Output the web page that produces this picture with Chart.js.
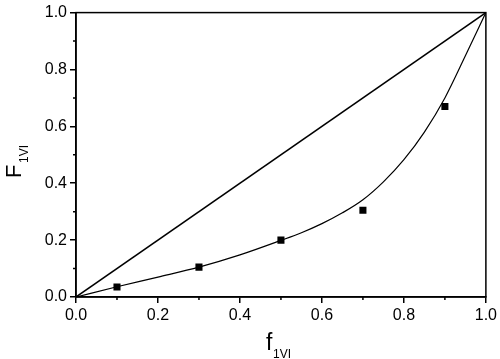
<!DOCTYPE html>
<html>
<head>
<meta charset="utf-8">
<script src="https://cdn.jsdelivr.net/npm/chart.js@4"></script>
<style>
  html, body { margin: 0; padding: 0; background: #fff; }
  #wrap { width: 500px; height: 359px; }
</style>
</head>
<body>
<div id="wrap"><canvas id="chart" width="500" height="359"></canvas></div>
<script>
// measured points (f1VI, F1VI)
const feedX = [0.1, 0.3, 0.5, 0.7, 0.9];
const copolyY = [0.035, 0.105, 0.2, 0.305, 0.67];

// fitted curve
const fitX = [0, 0.1, 0.2, 0.3, 0.4, 0.5, 0.55, 0.6, 0.65, 0.7, 0.75, 0.8, 0.85, 0.9, 0.95, 1.0];
const fitY = [0, 0.036, 0.07, 0.105, 0.148, 0.199, 0.226, 0.258, 0.296, 0.342, 0.405, 0.483, 0.58, 0.70, 0.848, 1.0];

// azeotrope diagonal
const diagX = [0, 1];
const diagY = [0, 1];

const minorTicks = [0.1, 0.3, 0.5, 0.7, 0.9];

const toXY = (xs, ys) => xs.map((x, i) => ({ x: x, y: ys[i] }));

// box on top/right, minor ticks and the subscripted axis titles
const framePlugin = {
    id: 'frame',
    afterDraw(chart) {
        const { ctx, chartArea: a, scales } = chart;
        ctx.save();
        ctx.strokeStyle = '#000';
        ctx.lineWidth = 1.5;
        ctx.strokeRect(a.left, a.top, a.right - a.left, a.bottom - a.top);

        ctx.beginPath();
        minorTicks.forEach(v => {
            const px = scales.x.getPixelForValue(v);
            ctx.moveTo(px, a.bottom);
            ctx.lineTo(px, a.bottom + 3);
            const py = scales.y.getPixelForValue(v);
            ctx.moveTo(a.left, py);
            ctx.lineTo(a.left - 3, py);
        });
        ctx.stroke();

        ctx.fillStyle = '#000';
        ctx.textBaseline = 'alphabetic';
        // x title: f 1VI
        ctx.font = '23px "Liberation Sans", Arial, sans-serif';
        ctx.fillText('f', 266, 350);
        ctx.font = '12px "Liberation Sans", Arial, sans-serif';
        ctx.fillText('1VI', 273, 358);

        // y title: F 1VI, rotated
        ctx.translate(21, 178);
        ctx.rotate(-Math.PI / 2);
        ctx.font = '22px "Liberation Sans", Arial, sans-serif';
        ctx.fillText('F', 0, 0);
        ctx.font = '12px "Liberation Sans", Arial, sans-serif';
        ctx.fillText('1VI', 15, 7);
        ctx.restore();
    }
};

const axisFont = { family: '"Liberation Sans", Arial, sans-serif', size: 16 };

const chart = new Chart(document.getElementById('chart'), {
    type: 'scatter',
    data: {
        datasets: [
            {
                label: 'diagonal',
                data: toXY(diagX, diagY),
                showLine: true,
                borderColor: '#000',
                borderWidth: 1.5,
                pointRadius: 0
            },
            {
                label: 'fit',
                data: toXY(fitX, fitY),
                showLine: true,
                borderColor: '#000',
                borderWidth: 1.2,
                cubicInterpolationMode: 'monotone',
                pointRadius: 0
            },
            {
                label: 'data',
                data: toXY(feedX, copolyY),
                showLine: false,
                pointStyle: 'rect',
                pointRadius: 5,
                backgroundColor: '#000',
                borderColor: '#000',
                borderWidth: 0
            }
        ]
    },
    options: {
        responsive: false,
        animation: false,
        layout: { padding: { left: 0, top: 7, right: 12, bottom: 0 } },
        plugins: { legend: { display: false }, tooltip: { enabled: false } },
        scales: {
            x: {
                type: 'linear',
                min: 0, max: 1,
                afterFit: s => { s.height = 62; },
                border: { display: true, color: '#000', width: 1.5 },
                grid: { drawOnChartArea: false, drawTicks: true, tickLength: 6, color: '#000', lineWidth: 1.5 },
                ticks: { stepSize: 0.2, padding: 3, color: '#000', font: axisFont, maxRotation: 0,
                         callback: v => v.toFixed(1) }
            },
            y: {
                type: 'linear',
                min: 0, max: 1,
                afterFit: s => { s.width = 76; },
                border: { display: true, color: '#000', width: 1.5 },
                grid: { drawOnChartArea: false, drawTicks: true, tickLength: 6, color: '#000', lineWidth: 1.5 },
                ticks: { stepSize: 0.2, padding: 3, color: '#000', font: axisFont,
                         callback: v => v.toFixed(1) }
            }
        }
    },
    plugins: [framePlugin]
});
</script>
</body>
</html>
